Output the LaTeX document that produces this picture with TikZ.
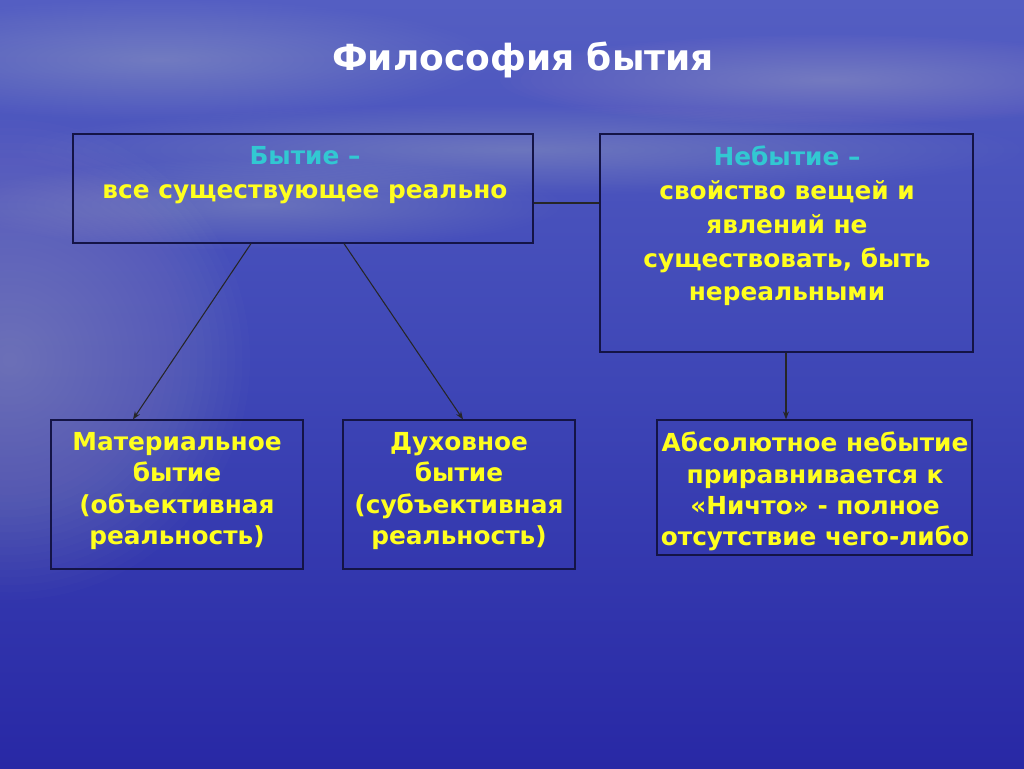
\documentclass[tikz,border=0pt]{standalone}
\usepackage{fontspec}
\setmainfont{DejaVu Sans}
\usetikzlibrary{arrows.meta}
\definecolor{txtyellow}{RGB}{255,255,30}
\definecolor{txtcyan}{RGB}{50,200,210}
\definecolor{boxline}{RGB}{20,20,70}
\definecolor{bgtop}{RGB}{84,94,194}
\definecolor{bgmid}{RGB}{62,70,182}
\definecolor{bgbot}{RGB}{40,40,165}
\tikzset{
  box/.style={draw=boxline, line width=0.9pt, rectangle, inner sep=0pt},
  btxt/.style={font=\bfseries\fontsize{18.6}{23.5}\selectfont, text=txtyellow, align=center, inner sep=0pt, anchor=north},
  conn/.style={draw=black!85, line width=0.8pt},
  arr/.style={conn, -{Stealth[length=6pt,width=4.5pt]}}
}
\newcommand{\softglow}[5]{% x, y, a, b, opacity per step
  \foreach \k in {1,...,32}{
    \fill[white, opacity=#5] (#1,#2) ellipse ({#3/32*\k} and {#4/32*\k});
  }}
\begin{document}
\begin{tikzpicture}[x=0.75pt,y=-0.75pt]
\useasboundingbox (0,0) rectangle (1024,768);
% background
\shade[top color=bgtop, bottom color=bgmid] (0,0) rectangle (1024,384);
\shade[top color=bgmid, bottom color=bgbot] (0,384) rectangle (1024,768);
\softglow{10}{360}{240}{240}{0.0125}
\softglow{160}{60}{330}{60}{0.009}
\softglow{830}{80}{330}{45}{0.01}
\softglow{520}{150}{500}{45}{0.006}
\softglow{260}{205}{300}{45}{0.007}
% title
\node[font=\bfseries\fontsize{27}{32}\selectfont, text=white, inner sep=0pt] (title) at (523,60) {Философия бытия};
% boxes
\node[box, minimum width=460*0.75pt, minimum height=109*0.75pt] (bytie) at (303,188.5) {};
\node[box, minimum width=373*0.75pt, minimum height=218*0.75pt] (nebytie) at (786.5,243) {};
\node[box, minimum width=252*0.75pt, minimum height=149*0.75pt] (mat) at (177,494.5) {};
\node[box, minimum width=232*0.75pt, minimum height=149*0.75pt] (dukh) at (459,494.5) {};
\node[box, minimum width=315*0.75pt, minimum height=135*0.75pt] (abs) at (814.5,487.5) {};
% texts
\node[btxt, font=\bfseries\fontsize{18.6}{25.5}\selectfont] (tbytie) at (305,146) {\textcolor{txtcyan}{Бытие –}\\все существующее реально};
\node[btxt, font=\bfseries\fontsize{18.6}{25.3}\selectfont] (tnebytie) at (787,146) {\textcolor{txtcyan}{Небытие –}\\свойство вещей и\\явлений не\\существовать, быть\\нереальными};
\node[btxt] (tmat) at (177,432) {Материальное\\бытие\\(объективная\\реальность)};
\node[btxt] (tdukh) at (459,432) {Духовное\\бытие\\(субъективная\\реальность)};
\node[btxt] (tabs) at (815,432) {Абсолютное небытие\\приравнивается к\\«Ничто» - полное\\отсутствие чего-либо};
% connectors
\draw[conn] (bytie.east |- 0,203) -- (nebytie.west |- 0,203);
\draw[arr] (bytie.south -| 251,0) -- (mat.north -| 133,0);
\draw[arr] (bytie.south -| 344,0) -- (dukh.north -| 463,0);
\draw[arr] (nebytie.south -| 786,0) -- (abs.north -| 786,0);
\end{tikzpicture}
\end{document}
